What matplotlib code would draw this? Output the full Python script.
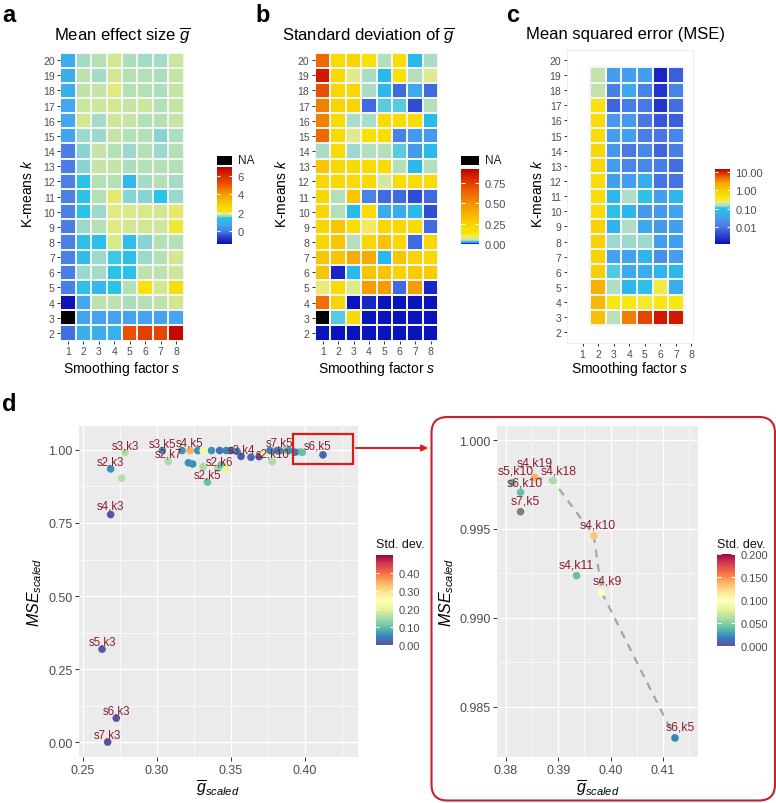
import numpy as np
import matplotlib
matplotlib.use('Agg')
import matplotlib.pyplot as plt
from matplotlib.colors import LinearSegmentedColormap, Normalize, LogNorm
from matplotlib.patches import Rectangle, FancyBboxPatch, FancyArrowPatch
import matplotlib.cm as cm

plt.rcParams['font.family'] = ['Liberation Sans', 'DejaVu Sans']
plt.rcParams['mathtext.fontset'] = 'custom'
plt.rcParams['mathtext.rm'] = 'Liberation Sans'
plt.rcParams['mathtext.it'] = 'Liberation Sans:italic'
plt.rcParams['mathtext.bf'] = 'Liberation Sans:bold'

nan = np.nan
# ---------------- data ----------------
smoothing = [1, 2, 3, 4, 5, 6, 7, 8]
kmeans_rows = list(range(20, 1, -1))          # k = 20 ... 2 (top to bottom)

# mean effect size g (rows k=20..2, cols s=1..8)
mean_g = [
    [0.80, 1.65, 1.70, 1.85, 1.68, 1.65, 1.65, 1.80],
    [0.85, 1.75, 1.65, 1.85, 1.70, 1.72, 1.68, 1.78],
    [0.85, 1.75, 1.78, 1.90, 1.72, 1.72, 1.68, 1.78],
    [0.70, 1.80, 1.80, 1.85, 1.78, 1.80, 1.72, 1.78],
    [0.70, 1.85, 1.65, 1.82, 1.78, 1.72, 1.70, 1.78],
    [0.60, 1.60, 1.60, 1.78, 1.72, 1.72, 1.58, 1.68],
    [0.00, 1.58, 1.78, 1.70, 1.62, 1.72, 1.60, 1.72],
    [0.00, 1.58, 1.78, 1.78, 1.68, 1.72, 1.70, 1.72],
    [0.05, 1.35, 1.70, 1.72, 1.10, 1.65, 1.72, 1.65],
    [0.05, 1.35, 1.72, 1.95, 1.58, 1.58, 1.40, 1.60],
    [0.05, 1.35, 1.62, 1.90, 1.88, 1.88, 1.85, 1.95],
    [0.00, 1.60, 1.72, 1.90, 1.85, 1.85, 1.82, 2.05],
    [0.05, 1.30, 1.30, 1.88, 1.30, 1.58, 1.70, 1.72],
    [0.05, 1.15, 1.62, 1.50, 1.30, 1.62, 1.72, 1.85],
    [0.00, 1.60, 1.65, 1.38, 1.35, 1.75, 1.75, 1.80],
    [0.05, 1.30, 1.05, 1.35, 1.72, 2.20, 1.85, 2.30],
    [-1.30, 0.70, 1.75, 1.75, 1.68, 1.72, 1.75, 1.85],
    [nan, 0.60, 0.60, 0.60, 0.60, 0.60, 0.60, 0.62],
    [-0.15, 0.90, 0.90, 0.95, 5.20, 5.60, 5.40, 6.80],
]

# standard deviation of g (rows k=20..2, cols s=1..8)
sd_g = [
    [0.62, 0.20, 0.25, 0.15, 0.05, 0.18, 0.028, 0.045],
    [0.85, 0.20, 0.07, 0.045, 0.028, 0.15, 0.05, 0.065],
    [0.70, 0.22, 0.22, 0.045, 0.026, 0.012, 0.025, 0.014],
    [0.55, 0.25, 0.25, 0.012, 0.035, 0.035, 0.009, 0.05],
    [0.55, 0.20, 0.045, 0.045, 0.20, 0.20, 0.20, 0.027],
    [0.62, 0.20, 0.07, 0.15, 0.18, 0.015, 0.018, 0.020],
    [0.045, 0.20, 0.040, 0.05, 0.05, 0.035, 0.020, 0.026],
    [0.30, 0.22, 0.20, 0.20, 0.18, 0.05, 0.027, 0.05],
    [0.22, 0.22, 0.20, 0.20, 0.06, 0.20, 0.20, 0.20],
    [0.22, 0.05, 0.30, 0.016, 0.011, 0.011, 0.009, 0.012],
    [0.22, 0.05, 0.028, 0.20, 0.022, 0.022, 0.026, 0.009],
    [0.25, 0.30, 0.18, 0.09, 0.22, 0.22, 0.20, 0.012],
    [0.22, 0.30, 0.05, 0.22, 0.30, 0.22, 0.012, 0.22],
    [0.30, 0.30, 0.40, 0.40, 0.027, 0.30, 0.25, 0.22],
    [0.30, 0.004, 0.026, 0.30, 0.30, 0.25, 0.28, 0.28],
    [0.08, 0.20, 0.07, 0.45, 0.45, 0.012, 0.45, 0.006],
    [0.60, 0.25, 0.0, 0.006, 0.0, 0.0, 0.0, 0.0],
    [nan, 0.035, 0.20, 0.0, 0.0, 0.0, 0.0, 0.0],
    [0.0, 0.0, 0.0, 0.0, 0.0, 0.0, 0.0, 0.0],
]

# MSE (rows k=19..3, cols s=2..7)
mse_s = [2, 3, 4, 5, 6, 7]
mse_k = list(range(19, 2, -1))
mse = [
    [0.17, 0.030, 0.030, 0.030, 0.0018, 0.006],
    [0.17, 0.012, 0.040, 0.014, 0.0025, 0.014],
    [0.50, 0.007, 0.012, 0.010, 0.0025, 0.008],
    [0.60, 0.025, 0.025, 0.010, 0.005, 0.006],
    [0.60, 0.030, 0.030, 0.012, 0.010, 0.015],
    [0.70, 0.025, 0.010, 0.015, 0.007, 0.012],
    [0.70, 0.030, 0.015, 0.015, 0.012, 0.008],
    [0.60, 0.030, 0.030, 0.050, 0.009, 0.009],
    [0.60, 0.070, 0.150, 0.100, 0.030, 0.070],
    [0.60, 0.100, 0.060, 0.025, 0.025, 0.035],
    [0.80, 0.060, 0.150, 0.040, 0.025, 0.030],
    [0.80, 0.140, 0.140, 0.140, 0.030, 0.030],
    [0.80, 0.035, 0.035, 0.060, 0.020, 0.030],
    [0.90, 0.120, 0.040, 0.050, 0.060, 0.070],
    [1.80, 0.150, 0.070, 0.100, 0.300, 0.050],
    [1.60, 0.400, 0.400, 0.350, 0.400, 0.400],
    [1.30, 0.160, 4.000, 7.000, 11.00, 11.00],
]

# scatter (panel d)
pt_names = ['s7,k5', 's3,k3', 's2,k3', '', 's4,k3', 's5,k3', 's6,k3', 's7,k3',
            's3,k5', 's2,k7', '', 's4,k5', '', '', '', '', '', '', '', 's3,k4',
            '', '', '', '', '', '', 's2,k5', 's2,k6', '', '', 's2,k10', '',
            's5,k10', 's4,k19', 's6,k10', 's4,k18', 's4,k10', 's4,k11', 's4,k9', 's6,k5']
g_scaled = [0.3828, 0.2785, 0.2687, 0.2762, 0.2687, 0.2629, 0.2725, 0.2667,
            0.3036, 0.3076, 0.3169, 0.3224, 0.3276, 0.3313, 0.3369, 0.3424, 0.3469, 0.3502, 0.3542, 0.3569,
            0.3636, 0.3691, 0.3724, 0.3213, 0.3242, 0.3313, 0.3342, 0.3413, 0.3435, 0.3469, 0.3780, 0.3765,
            0.3812, 0.3855, 0.3828, 0.3890, 0.3968, 0.3935, 0.3983, 0.4123]
mse_scaled = [0.99597, 0.992, 0.935, 0.903, 0.779, 0.318, 0.082, 0.000,
              0.998, 0.960, 0.998, 0.998, 0.998, 0.998, 0.998, 0.998, 0.998, 0.998, 0.995, 0.978,
              0.975, 0.977, 0.990, 0.956, 0.952, 0.943, 0.890, 0.937, 0.949, 0.935, 0.960, 0.998,
              0.9976, 0.9979, 0.99706, 0.99771, 0.99462, 0.99237, 0.99143, 0.98324]
std_dev = [0.25, 0.15, 0.06, 0.16, 0.00, 0.01, 0.00, 0.00,
           0.06, 0.15, 0.06, 0.35, 0.06, 0.22, 0.06, 0.03, 0.05, 0.02, 0.05, 0.01,
           0.02, 0.01, 0.22, 0.06, 0.06, 0.15, 0.10, 0.14, 0.10, 0.20, 0.15, 0.05,
           0.04, 0.14, 0.04, 0.06, 0.13, 0.04, 0.10, 0.02]
overview_labels = ['s3,k3', 's2,k3', 's4,k3', 's5,k3', 's6,k3', 's7,k3', 's3,k5', 's4,k5',
                   's2,k7', 's2,k6', 's2,k5', 's3,k4', 's7,k5', 's2,k10', 's6,k5']
zoom_labels = ['s5,k10', 's4,k19', 's4,k18', 's6,k10', 's7,k5', 's4,k10', 's4,k11', 's4,k9', 's6,k5']
front_path = ['s4,k19', 's4,k18', 's4,k10', 's4,k9', 's6,k5']

# ---------------- layout helpers ----------------
W, H = 776, 804
fig = plt.figure(figsize=(W / 100, H / 100), dpi=100)


def ax_px(l, t, r, b):
    return fig.add_axes([l / W, 1 - b / H, (r - l) / W, (b - t) / H])


def ftext(x, y, s, **kw):
    return fig.text(x / W, 1 - y / H, s, **kw)


def pin(x, y):
    return (x / 100, (H - y) / 100)


GREY_T = '#4d4d4d'

# ---------------- colormaps ----------------
def stops_cmap(stops, vmin, vmax, name):
    return LinearSegmentedColormap.from_list(
        name, [((v - vmin) / (vmax - vmin), c) for v, c in stops])


a_min, a_max = -1.42, 6.98
cmap_a = stops_cmap([(-1.42, '#0c0cb0'), (-0.6, '#2a48d0'), (0.0, '#4a7ee6'), (0.6, '#44a4f0'),
                     (1.2, '#30bcec'), (1.45, '#24c6e6'), (1.6, '#98d8d0'), (1.75, '#bfe3ac'),
                     (1.9, '#e0ea80'), (2.1, '#f8e410'), (3.0, '#f8c800'), (4.0, '#f89c00'),
                     (5.2, '#e85000'), (6.2, '#d42400'), (6.98, '#c00000')], a_min, a_max, 'a')
cmap_a.set_bad('black')

b_min, b_max = 0.0, 0.92
cmap_b = stops_cmap([(0, '#0a14bc'), (0.004, '#1a28c8'), (0.008, '#3456d8'), (0.013, '#4a7ce6'),
                     (0.02, '#40a4f0'), (0.027, '#22c0e8'), (0.04, '#a0dace'), (0.06, '#d8ea98'),
                     (0.09, '#f4ea60'), (0.14, '#f8e400'), (0.25, '#f8d400'), (0.35, '#f8b800'),
                     (0.5, '#f49000'), (0.65, '#ec6000'), (0.8, '#dc2c00'), (0.92, '#c00000')],
                    b_min, b_max, 'b')
cmap_b.set_bad('black')

c_lmin, c_lmax = -2.94, 1.17
cmap_c = stops_cmap([(-2.94, '#0c10b4'), (-2.5, '#2a40d0'), (-2.0, '#4a78e4'), (-1.5, '#44a0f0'),
                     (-1.1, '#28bcec'), (-0.95, '#30c4e8'), (-0.85, '#a8dccc'), (-0.65, '#e8ec80'),
                     (-0.4, '#f8e810'), (0.0, '#f8cc00'), (0.4, '#f8a400'), (0.7, '#ec6c00'),
                     (1.0, '#d82000'), (1.17, '#c40000')], c_lmin, c_lmax, 'c')

EDGE = dict(edgecolors='#f4f4f4', linewidth=0.15)


def style_heat(ax):
    ax.set_xticks(smoothing)
    ax.set_yticks(list(range(2, 21)))
    ax.tick_params(length=2.5, width=0.7, color='#333333', labelsize=7.5, labelcolor=GREY_T, pad=1.5)


# ---------------- panel a ----------------
xe = np.arange(0.5, 9.0, 1.0)
ye = np.arange(1.5, 21.0, 1.0)
ax_a = ax_px(60.3, 53.5, 183.7, 341.5)
ax_a.pcolormesh(xe, ye, np.ma.masked_invalid(np.array(mean_g)[::-1]), cmap=cmap_a,
                norm=Normalize(a_min, a_max), **EDGE)
ax_a.set_xlim(0.5, 8.5); ax_a.set_ylim(1.5, 20.5)
for s in ax_a.spines.values():
    s.set_visible(False)
style_heat(ax_a)

# ---------------- panel b ----------------
ax_b = ax_px(315, 53.5, 438.3, 341.5)
ax_b.pcolormesh(xe, ye, np.ma.masked_invalid(np.array(sd_g)[::-1]), cmap=cmap_b,
                norm=Normalize(b_min, b_max), **EDGE)
ax_b.set_xlim(0.5, 8.5); ax_b.set_ylim(1.5, 20.5)
for s in ax_b.spines.values():
    s.set_visible(False)
style_heat(ax_b)

# ---------------- panel c ----------------
ax_c = ax_px(567, 51, 693, 344)
xe_c = np.arange(min(mse_s) - 0.5, max(mse_s) + 1.0, 1.0)
ye_c = np.arange(min(mse_k) - 0.5, max(mse_k) + 1.0, 1.0)
ax_c.pcolormesh(xe_c, ye_c, np.array(mse)[::-1], cmap=cmap_c,
                norm=LogNorm(10 ** c_lmin, 10 ** c_lmax), **EDGE)
ax_c.set_xlim(0.0, 8.1); ax_c.set_ylim(1.3, 20.65)
for s in ax_c.spines.values():
    s.set_color('#ebebeb'); s.set_linewidth(0.6)
style_heat(ax_c)

# titles / labels heatmaps
for cx, title in [(122, r'Mean effect size $\overline{g}$'),
                  (368, r'Standard deviation of $\overline{g}$'),
                  (626, 'Mean squared error (MSE)')]:
    ftext(cx, 35, title, ha='center', va='center', fontsize=12)
for cx in [122, 377, 630]:
    ftext(cx, 369, r'Smoothing factor $s$', ha='center', va='center', fontsize=10)
for lx in [27, 282, 538]:
    ftext(lx, 194, r'K-means $k$', ha='center', va='center', fontsize=10, rotation=90)
for lx, lab in [(2, 'a'), (255, 'b'), (506, 'c')]:
    ftext(lx, 15, lab, ha='left', va='center', fontsize=17, fontweight='bold')
ftext(2, 405, 'd', ha='left', va='center', fontsize=17, fontweight='bold')


# ---------------- colorbars heatmaps ----------------
def add_cbar(l, t, r, b, norm, cmap, ticks, labels, white_ticks=True):
    cax = ax_px(l, t, r, b)
    cb = fig.colorbar(cm.ScalarMappable(norm=norm, cmap=cmap), cax=cax)
    cb.outline.set_visible(False)
    cb.set_ticks(ticks)
    cb.set_ticklabels(labels)
    cax.tick_params(length=0, labelsize=8, labelcolor=GREY_T, pad=4)
    if white_ticks:
        for t_ in ticks:
            cax.hlines(t_, 0, 0.2, colors='white', lw=0.8)
            cax.hlines(t_, 0.8, 1.0, colors='white', lw=0.8)
    return cax


add_cbar(217, 168, 232, 245, Normalize(a_min, a_max), cmap_a, [0, 2, 4, 6], ['0', '2', '4', '6'])
add_cbar(461, 170, 479, 245, Normalize(b_min, b_max), cmap_b, [0, 0.25, 0.5, 0.75],
         ['0.00', '0.25', '0.50', '0.75'])
add_cbar(715, 170, 730, 245, LogNorm(10 ** c_lmin, 10 ** c_lmax), cmap_c, [0.01, 0.1, 1, 10],
         ['0.01', '0.10', '1.00', '10.00'])
for (l, r) in [(217, 232), (461, 479)]:
    fig.add_artist(Rectangle(pin(l, 166), (r - l) / 100, 9 / 100, transform=fig.dpi_scale_trans,
                             facecolor='black', edgecolor='none'))
    ftext(r + 6, 161.5, 'NA', ha='left', va='center', fontsize=8.5, color='#222222')

# ---------------- panel d scatter ----------------
names = np.array(pt_names)
gx = np.array(g_scaled)
my = np.array(mse_scaled)
sd = np.array(std_dev)
spec = plt.get_cmap('Spectral_r')
LAB_COL = '#8b1e2d'


def style_scatter(ax, xt, yt, xmin, ymin, xfmt, yfmt):
    ax.set_facecolor('#ebebeb')
    ax.set_xticks(xt); ax.set_yticks(yt)
    ax.set_xticks(xmin, minor=True); ax.set_yticks(ymin, minor=True)
    ax.set_xticklabels([xfmt % v for v in xt]); ax.set_yticklabels([yfmt % v for v in yt])
    ax.grid(which='major', color='white', lw=1.0)
    ax.grid(which='minor', color='white', lw=0.5)
    ax.set_axisbelow(True)
    for s in ax.spines.values():
        s.set_visible(False)
    ax.tick_params(which='major', length=2.75, width=0.7, color='#333333', labelsize=9,
                   labelcolor=GREY_T, pad=2)
    ax.tick_params(which='minor', length=0)


# overview
ax_d = ax_px(79, 427, 358, 758)
norm_d = Normalize(0, 0.5)
ax_d.scatter(gx, my, c=sd, cmap=spec, norm=norm_d, s=30, linewidths=0, zorder=3)
ax_d.set_xlim(0.2473, 0.436); ax_d.set_ylim(-0.051, 1.082)
style_scatter(ax_d, [0.25, 0.30, 0.35, 0.40], [0.0, 0.25, 0.5, 0.75, 1.0],
              [0.275, 0.325, 0.375, 0.425], [0.125, 0.375, 0.625, 0.875], '%.2f', '%.2f')
off_d = {'s3,k3': (0, 7), 's2,k3': (0, 7), 's4,k3': (0, 9), 's3,k5': (0, 7), 's4,k5': (0, 8),
         's2,k6': (2, 7), 's3,k4': (0, 7), 's7,k5': (0, 9), 's6,k5': (-5, 9)}
for nm in overview_labels:
    i = list(names).index(nm)
    dx, dy = off_d.get(nm, (0, 8))
    ax_d.annotate(nm, (gx[i], my[i]), xytext=(dx * 0.72, dy * 0.72), textcoords='offset points',
                  ha='center', va='center', fontsize=8.3, color=LAB_COL, zorder=4)

# zoomed
ax_z = ax_px(497, 427, 698, 758)
norm_z = Normalize(0, 0.2)
col_z = [spec(norm_z(v)) if v <= 0.2 else '#7f7f7f' for v in sd]
idx_path = [list(names).index(n) for n in front_path]
ax_z.plot(gx[idx_path], my[idx_path], color='#a6a6a6', lw=1.6, ls=(0, (3.5, 3)), zorder=2)
ax_z.scatter(gx, my, c=col_z, s=30, linewidths=0, zorder=3)
ax_z.set_xlim(0.3783, 0.4167); ax_z.set_ylim(0.98217, 1.00079)
style_scatter(ax_z, [0.38, 0.39, 0.40, 0.41], [0.985, 0.990, 0.995, 1.000],
              [0.385, 0.395, 0.405, 0.415], [0.9875, 0.9925, 0.9975], '%.2f', '%.3f')
off_z = {'s5,k10': (4, 12), 's4,k19': (0, 15), 's4,k18': (6, 10), 's6,k10': (4, 10),
         's7,k5': (5, 11), 's4,k10': (4, 11), 's4,k11': (0, 11), 's4,k9': (6, 12), 's6,k5': (5, 11)}
for nm in zoom_labels:
    i = list(names).index(nm)
    dx, dy = off_z[nm]
    ax_z.annotate(nm, (gx[i], my[i]), xytext=(dx * 0.72, dy * 0.72), textcoords='offset points',
                  ha='center', va='center', fontsize=8.8, color=LAB_COL, zorder=4)

# axis titles
for cx in [218, 598]:
    ftext(cx, 789, r'$\overline{g}_{scaled}$', ha='center', va='center', fontsize=11.5)
for lx in [35, 447]:
    ftext(lx, 592, r'$MSE_{scaled}$', ha='center', va='center', fontsize=11.5, rotation=90)

# std colorbars
add_cbar(376, 556, 393, 646, norm_d, spec, [0, 0.1, 0.2, 0.3, 0.4],
         ['0.00', '0.10', '0.20', '0.30', '0.40'])
add_cbar(717, 555, 735, 647, norm_z, spec, [0, 0.05, 0.1, 0.15, 0.2],
         ['0.000', '0.050', '0.100', '0.150', '0.200'])
ftext(376, 545, 'Std. dev.', ha='left', va='center', fontsize=9, color='#111111')
ftext(717, 545, 'Std. dev.', ha='left', va='center', fontsize=9, color='#111111')

# zoom annotations
fig.add_artist(Rectangle(pin(293.3, 465), (352.7 - 293.3) / 100, 30 / 100,
                         transform=fig.dpi_scale_trans, fill=False, ec='#e01818', lw=1.6))
fig.add_artist(FancyArrowPatch(pin(353, 449), pin(431, 449), transform=fig.dpi_scale_trans,
                               arrowstyle='-|>', mutation_scale=9, color='#e01818', lw=1.4))
fig.add_artist(FancyBboxPatch(pin(431.5, 801.5), (775 - 431.5) / 100, (801.5 - 418) / 100,
                              boxstyle='round,pad=0,rounding_size=0.16',
                              transform=fig.dpi_scale_trans, fill=False, ec='#c8202c', lw=1.5))

fig.savefig('out.png', dpi=100)
